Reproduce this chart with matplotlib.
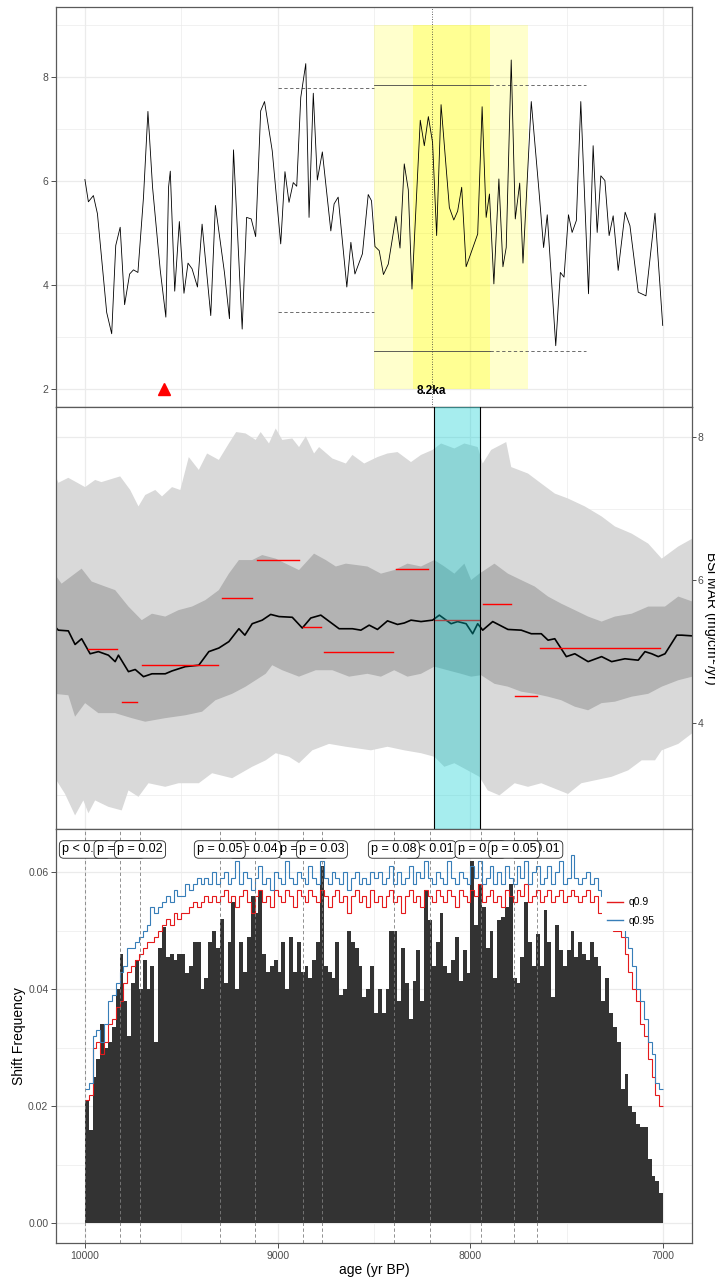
import numpy as np
import matplotlib
matplotlib.use('Agg')
import matplotlib.pyplot as plt
from matplotlib.patches import Rectangle
from matplotlib.lines import Line2D

plt.rcParams['font.family'] = ['Liberation Sans', 'DejaVu Sans']

# ---------- panel 1: BSi record ----------
rec_age = [10000, 9982, 9956, 9935, 9887, 9861, 9840, 9817, 9794, 9768, 9748, 9725, 9696, 9673,
           9649, 9609, 9580, 9566, 9557, 9534, 9510, 9486, 9465, 9444, 9416, 9392, 9347, 9323,
           9276, 9250, 9229, 9184, 9161, 9137, 9114, 9088, 9068, 9028, 8984, 8962, 8941, 8919,
           8901, 8880, 8854, 8837, 8815, 8794, 8768, 8724, 8707, 8686, 8641, 8620, 8599, 8560,
           8530, 8513, 8495, 8473, 8451, 8426, 8386, 8365, 8343, 8322, 8303, 8260, 8239, 8218,
           8196, 8175, 8152, 8109, 8086, 8066, 8045, 8022, 7962, 7939, 7918, 7901, 7878, 7852,
           7831, 7814, 7788, 7767, 7744, 7727, 7684, 7644, 7620, 7601, 7557, 7533, 7514, 7491,
           7472, 7450, 7427, 7387, 7363, 7342, 7323, 7302, 7280, 7259, 7233, 7197, 7172, 7129,
           7089, 7042, 7002]
rec_val = [6.03, 5.60, 5.72, 5.37, 3.47, 3.06, 4.76, 5.11, 3.62, 4.21, 4.29, 4.24, 5.69, 7.34,
           5.88, 4.28, 3.38, 5.88, 6.19, 3.88, 5.22, 3.84, 4.42, 4.31, 3.96, 5.17, 3.41, 5.53,
           4.24, 3.35, 6.60, 3.15, 5.30, 5.27, 4.93, 7.35, 7.53, 6.58, 4.79, 6.18, 5.59, 5.97,
           5.90, 7.61, 8.26, 5.30, 7.69, 6.02, 6.56, 5.04, 5.56, 5.69, 3.96, 4.82, 4.21, 4.60,
           5.74, 5.62, 4.74, 4.66, 4.20, 4.40, 5.32, 4.71, 6.33, 5.83, 3.92, 7.17, 6.68, 7.24,
           6.74, 4.95, 7.47, 5.49, 5.25, 5.42, 5.88, 4.35, 4.98, 7.43, 5.30, 5.75, 4.02, 6.04,
           4.35, 4.72, 8.33, 5.27, 5.96, 4.42, 7.53, 5.81, 4.72, 5.35, 2.83, 4.24, 4.15, 5.35,
           5.01, 5.24, 7.53, 3.83, 6.68, 5.01, 6.10, 6.01, 4.95, 5.33, 4.28, 5.40, 5.14, 3.86,
           3.79, 5.38, 3.22]

# event windows (yr BP) and reference levels
outer_win = (8500, 7700)
inner_win = (8300, 7900)
event_age = 8200
ref_left = (9000, 8500, 7.79, 3.48)
ref_mid = (8500, 7900, 7.85, 2.73)
ref_right = (7900, 7400, 7.85, 2.73)
marker_age = 9590

# ---------- panel 2: BSi MAR ensemble ----------
lu_age = [10159, 10138, 10086, 9999, 9947, 9914, 9817, 9765, 9722, 9687, 9635, 9600, 9548, 9505,
          9461, 9409, 9366, 9305, 9253, 9215, 9166, 9114, 9088, 9045, 9010, 8976, 8924, 8889,
          8854, 8811, 8785, 8716, 8646, 8612, 8551, 8482, 8430, 8378, 8308, 8256, 8196, 8152,
          8083, 8031, 7962, 7936, 7892, 7814, 7788, 7701, 7632, 7562, 7493, 7406, 7319, 7250,
          7163, 7077, 7007, 6921, 6848]
lu_val = [7.51, 7.36, 7.43, 7.30, 7.40, 7.37, 7.45, 7.26, 7.03, 7.19, 7.26, 7.17, 7.30, 7.26,
          7.72, 7.54, 7.77, 7.68, 7.91, 8.07, 8.05, 7.96, 8.07, 7.91, 8.12, 7.96, 7.98, 7.86,
          8.01, 7.77, 7.86, 7.70, 7.63, 7.75, 7.63, 7.72, 7.77, 7.79, 7.65, 7.75, 7.82, 7.91,
          7.84, 7.91, 7.86, 7.63, 7.82, 7.93, 7.58, 7.49, 7.35, 7.21, 7.14, 7.03, 6.89, 6.75,
          6.65, 6.51, 6.30, 6.47, 6.58]
ll_age = [10159, 10103, 10051, 10008, 9982, 9947, 9878, 9809, 9774, 9722, 9670, 9583, 9514, 9409,
          9340, 9236, 9132, 9062, 9010, 8941, 8889, 8820, 8733, 8646, 8516, 8430, 8343, 8256,
          8187, 8135, 8083, 8014, 7953, 7910, 7849, 7770, 7701, 7632, 7493, 7424, 7354, 7267,
          7181, 7111, 7042, 7007, 6921, 6848]
ll_val = [3.25, 3.01, 2.71, 2.92, 2.74, 2.92, 2.83, 2.78, 3.06, 2.97, 3.16, 3.11, 3.16, 3.16,
          3.30, 3.23, 3.39, 3.48, 3.58, 3.53, 3.44, 3.62, 3.71, 3.67, 3.62, 3.67, 3.62, 3.58,
          3.53, 3.39, 3.44, 3.34, 3.25, 3.06, 2.99, 3.16, 3.11, 3.16, 3.01, 3.16, 3.20, 3.25,
          3.34, 3.48, 3.48, 3.62, 3.71, 3.86]
du_age = [10159, 10121, 10017, 9965, 9895, 9843, 9774, 9705, 9652, 9583, 9514, 9444, 9375, 9305,
          9253, 9201, 9132, 9080, 9010, 8958, 8889, 8811, 8750, 8698, 8646, 8534, 8464, 8395,
          8326, 8256, 8187, 8135, 8083, 8031, 7996, 7953, 7875, 7805, 7736, 7666, 7597, 7528,
          7458, 7389, 7319, 7250, 7163, 7077, 6990, 6921, 6848]
du_val = [6.09, 5.95, 6.16, 5.98, 5.91, 5.86, 5.63, 5.44, 5.53, 5.49, 5.58, 5.63, 5.72, 5.86,
          6.09, 6.28, 6.28, 6.35, 6.30, 6.23, 6.14, 6.37, 6.28, 6.19, 6.23, 6.19, 6.09, 6.14,
          6.23, 6.19, 6.28, 6.19, 6.09, 6.23, 6.00, 6.09, 6.23, 6.09, 6.00, 5.91, 5.77, 5.67,
          5.58, 5.49, 5.42, 5.49, 5.53, 5.63, 5.63, 5.77, 5.70]
dl_age = [10159, 10086, 10051, 9999, 9930, 9843, 9757, 9687, 9583, 9479, 9392, 9323, 9236, 9166,
          9114, 9062, 9028, 8976, 8889, 8802, 8716, 8629, 8534, 8464, 8395, 8326, 8256, 8187,
          8118, 8048, 7996, 7944, 7875, 7805, 7736, 7666, 7597, 7528, 7458, 7389, 7319, 7250,
          7163, 7077, 7007, 6921, 6848]
dl_val = [4.41, 4.39, 4.09, 4.28, 4.14, 4.14, 4.07, 4.02, 4.07, 4.11, 4.16, 4.32, 4.41, 4.51,
          4.60, 4.69, 4.81, 4.74, 4.65, 4.74, 4.74, 4.65, 4.69, 4.65, 4.74, 4.65, 4.69, 4.79,
          4.74, 4.69, 4.65, 4.67, 4.55, 4.51, 4.44, 4.41, 4.37, 4.32, 4.23, 4.18, 4.28, 4.30,
          4.37, 4.41, 4.51, 4.60, 4.65]
med_age = [10159, 10138, 10086, 10051, 10017, 9973, 9930, 9878, 9843, 9826, 9774, 9739, 9696,
           9652, 9583, 9548, 9479, 9409, 9357, 9305, 9253, 9201, 9170, 9132, 9080, 9036, 8993,
           8924, 8872, 8828, 8776, 8716, 8681, 8612, 8568, 8525, 8482, 8430, 8378, 8343, 8308,
           8256, 8196, 8161, 8100, 8066, 8022, 7988, 7962, 7936, 7884, 7805, 7736, 7684, 7632,
           7597, 7562, 7502, 7458, 7389, 7319, 7267, 7198, 7129, 7094, 7059, 7025, 6990, 6929,
           6903, 6848]
med_val = [5.36, 5.30, 5.29, 5.10, 5.18, 4.97, 5.00, 4.95, 4.86, 4.95, 4.72, 4.75, 4.65, 4.69,
           4.69, 4.73, 4.79, 4.81, 5.00, 5.05, 5.14, 5.32, 5.23, 5.39, 5.44, 5.52, 5.49, 5.48,
           5.33, 5.47, 5.51, 5.39, 5.32, 5.32, 5.30, 5.37, 5.31, 5.43, 5.38, 5.40, 5.44, 5.42,
           5.44, 5.51, 5.39, 5.42, 5.39, 5.25, 5.39, 5.30, 5.42, 5.31, 5.30, 5.25, 5.25, 5.16,
           5.18, 4.93, 4.97, 4.86, 4.93, 4.86, 4.90, 4.88, 5.00, 4.97, 4.93, 4.97, 5.23, 5.23,
           5.22]
seg_start = [9982, 9810, 9706, 9290, 9108, 8868, 8760, 8384, 8187, 7936, 7770, 7641]
seg_end = [9831, 9732, 9311, 9134, 8889, 8775, 8400, 8218, 7953, 7790, 7656, 7017]
seg_val = [5.03, 4.29, 4.81, 5.75, 6.28, 5.34, 4.99, 6.15, 5.44, 5.66, 4.38, 5.05]
cyan_win = (8190, 7950)

# ---------- panel 3: shift frequency (20-yr bins from 10000 to 7000) ----------
bin_edges = np.arange(10000, 6999, -20)
shift_freq = [0.021, 0.016, 0.025, 0.028, 0.034, 0.030, 0.031, 0.0335, 0.040, 0.046,
              0.038, 0.032, 0.041, 0.045, 0.040, 0.045, 0.040, 0.044, 0.031, 0.047,
              0.0507, 0.0455, 0.046, 0.045, 0.046, 0.046, 0.0427, 0.044, 0.048, 0.048,
              0.040, 0.042, 0.048, 0.050, 0.047, 0.052, 0.041, 0.048, 0.055, 0.040,
              0.048, 0.043, 0.049, 0.056, 0.053, 0.057, 0.046, 0.043, 0.044, 0.045,
              0.043, 0.048, 0.040, 0.049, 0.043, 0.048, 0.043, 0.044, 0.042, 0.045,
              0.048, 0.061, 0.044, 0.043, 0.042, 0.048, 0.039, 0.040, 0.050, 0.048,
              0.047, 0.044, 0.0387, 0.040, 0.044, 0.036,
              0.040, 0.036, 0.040, 0.050, 0.050, 0.038, 0.047, 0.041, 0.035, 0.0415,
              0.0467, 0.038, 0.057, 0.0518, 0.044, 0.048, 0.053, 0.044, 0.0427, 0.045,
              0.049, 0.0415, 0.0467, 0.0427, 0.062, 0.051, 0.058, 0.054, 0.047, 0.050,
              0.042, 0.0518, 0.0524, 0.054, 0.058, 0.042, 0.041, 0.0455, 0.055, 0.048,
              0.044, 0.0495, 0.044, 0.0535, 0.048, 0.0387, 0.051, 0.0467, 0.044, 0.0467,
              0.050, 0.0455, 0.048, 0.046, 0.045, 0.048, 0.0455, 0.044, 0.038, 0.042,
              0.036, 0.0335, 0.031, 0.023, 0.0256, 0.020, 0.019, 0.017, 0.0165, 0.0165,
              0.011, 0.008, 0.0073, 0.0051]
q90 = [0.021, 0.022, 0.030, 0.031, 0.029, 0.031, 0.034, 0.035, 0.037, 0.038,
       0.041, 0.043, 0.044, 0.045, 0.046, 0.047, 0.048, 0.048, 0.049, 0.050,
       0.051, 0.052, 0.051, 0.053, 0.052, 0.053, 0.053, 0.054, 0.055, 0.054,
       0.055, 0.056, 0.055, 0.056, 0.055, 0.056, 0.057, 0.055, 0.056, 0.054,
       0.056, 0.057, 0.055, 0.053, 0.056, 0.057, 0.055, 0.056, 0.054, 0.057,
       0.056, 0.055, 0.057, 0.056, 0.054, 0.057, 0.056, 0.055, 0.057, 0.056,
       0.055, 0.057, 0.056, 0.054, 0.056, 0.057, 0.055, 0.056, 0.053, 0.056,
       0.057, 0.055, 0.056, 0.054, 0.057, 0.055, 0.056, 0.054, 0.056, 0.057,
       0.055, 0.056, 0.053, 0.056, 0.057, 0.055, 0.056, 0.054, 0.057, 0.056,
       0.055, 0.057, 0.056, 0.055, 0.057, 0.056, 0.054, 0.057, 0.056, 0.055,
       0.057, 0.056, 0.058, 0.055, 0.056, 0.057, 0.055, 0.056, 0.054, 0.057,
       0.056, 0.055, 0.057, 0.056, 0.058, 0.055, 0.056, 0.057, 0.055, 0.056,
       0.057, 0.055, 0.056, 0.057, 0.055, 0.056, 0.057, 0.056, 0.055, 0.056,
       0.057, 0.055, 0.056, 0.053, 0.053, 0.052, 0.051, 0.050, 0.050, 0.049,
       0.046, 0.043, 0.040, 0.038, 0.034, 0.032, 0.028, 0.025, 0.022, 0.020]
q95 = [0.023, 0.024, 0.032, 0.033, 0.031, 0.034, 0.038, 0.039, 0.041, 0.043,
       0.044, 0.047, 0.047, 0.048, 0.049, 0.050, 0.051, 0.054, 0.053, 0.054,
       0.055, 0.056, 0.055, 0.057, 0.056, 0.056, 0.058, 0.057, 0.058, 0.059,
       0.058, 0.059, 0.058, 0.060, 0.058, 0.059, 0.060, 0.058, 0.059, 0.062,
       0.058, 0.060, 0.059, 0.057, 0.059, 0.061, 0.058, 0.059, 0.057, 0.060,
       0.059, 0.058, 0.062, 0.059, 0.058, 0.060, 0.059, 0.058, 0.061, 0.059,
       0.058, 0.062, 0.059, 0.058, 0.060, 0.059, 0.058, 0.060, 0.057, 0.059,
       0.060, 0.058, 0.059, 0.058, 0.060, 0.059, 0.060, 0.058, 0.059, 0.061,
       0.058, 0.060, 0.058, 0.059, 0.061, 0.058, 0.060, 0.059, 0.062, 0.059,
       0.058, 0.060, 0.059, 0.058, 0.062, 0.059, 0.058, 0.060, 0.059, 0.058,
       0.061, 0.059, 0.062, 0.058, 0.059, 0.061, 0.058, 0.060, 0.058, 0.061,
       0.059, 0.058, 0.061, 0.059, 0.062, 0.058, 0.060, 0.061, 0.058, 0.059,
       0.061, 0.058, 0.060, 0.062, 0.058, 0.059, 0.063, 0.059, 0.058, 0.059,
       0.060, 0.058, 0.059, 0.057, 0.056, 0.055, 0.054, 0.054, 0.054, 0.054,
       0.049, 0.047, 0.044, 0.040, 0.038, 0.035, 0.031, 0.029, 0.024, 0.023]
cp_age = [10000, 9820, 9714, 9300, 9118, 8868, 8770, 8397, 8207, 7947, 7773, 7653]
cp_text = ['p < 0.01', 'p = 0.01', 'p = 0.02', 'p = 0.05', 'p = 0.04', 'p = 0.01',
           'p = 0.03', 'p = 0.08', 'p < 0.01', 'p = 0.02', 'p = 0.05', 'p = 0.01']

XLIM = (10150, 6850)
GRID = '#EBEBEB'
TICKC = '#4D4D4D'
BORDER = '#5a5a5a'


def style(ax):
    ax.set_xlim(*XLIM)
    ax.set_facecolor('white')
    for s in ax.spines.values():
        s.set_color(BORDER)
        s.set_linewidth(0.9)
    ax.set_xticks([10000, 9000, 8000, 7000])
    ax.set_xticks([9500, 8500, 7500], minor=True)
    ax.grid(True, which='major', color=GRID, lw=0.9, zorder=0)
    ax.grid(True, which='minor', color=GRID, lw=0.5, zorder=0)
    ax.set_axisbelow(True)
    ax.tick_params(which='major', length=3.5, width=0.6, color='#333333',
                   labelsize=7.5, labelcolor=TICKC, pad=2)
    ax.tick_params(which='minor', length=0)


fig = plt.figure(figsize=(7.15, 12.77), dpi=100)
W, H = 715, 1277
def box(l, t, r, b):
    return [l / W, 1 - b / H, (r - l) / W, (b - t) / H]

# ----- top -----
ax1 = fig.add_axes(box(56, 7, 692, 407))
style(ax1)
ax1.set_ylim(1.65, 9.35)
ax1.set_yticks([2, 4, 6, 8])
ax1.set_yticks([3, 5, 7, 9], minor=True)
ax1.set_xticklabels([])
ax1.fill_betweenx([2, 9], outer_win[0], outer_win[1], color='#FFFF00', alpha=0.2, lw=0, zorder=1)
ax1.fill_betweenx([2, 9], inner_win[0], inner_win[1], color='#FFFF00', alpha=0.28, lw=0, zorder=1)
ax1.axvline(event_age, color='#333333', lw=0.6, ls=(0, (1, 2)), zorder=2)
for a0, a1, hi, lo in [ref_left, ref_right]:
    ax1.plot([a0, a1], [hi, hi], color='#555555', lw=0.6, ls=(0, (4, 3)), zorder=2)
    ax1.plot([a0, a1], [lo, lo], color='#555555', lw=0.6, ls=(0, (4, 3)), zorder=2)
a0, a1, hi, lo = ref_mid
ax1.plot([a0, a1], [hi, hi], color='#444444', lw=0.6, zorder=2)
ax1.plot([a0, a1], [lo, lo], color='#444444', lw=0.6, zorder=2)
ax1.plot(rec_age, rec_val, color='black', lw=0.6, zorder=3)
ax1.plot([marker_age], [2], marker='^', color='red', ms=9, ls='none', zorder=4)
ax1.text(event_age, 1.96, '8.2ka', ha='center', va='center', fontsize=8.5,
         fontweight='bold', zorder=5)

# ----- middle -----
ax2 = fig.add_axes(box(56, 407, 692, 829))
style(ax2)
ax2.set_ylim(2.52, 8.42)
ax2.yaxis.tick_right()
ax2.yaxis.set_label_position('right')
ax2.set_yticks([4, 6, 8])
ax2.set_yticks([3, 5, 7], minor=True)
ax2.tick_params(axis='y', which='major', length=3, pad=1)
ax2.set_xticklabels([])
ax2.tick_params(axis='x', which='major', length=0)
ax2.fill(np.concatenate([lu_age, ll_age[::-1]]), np.concatenate([lu_val, ll_val[::-1]]),
         color='#D9D9D9', lw=0, zorder=1)
ax2.fill(np.concatenate([du_age, dl_age[::-1]]), np.concatenate([du_val, dl_val[::-1]]),
         color='#B3B3B3', lw=0, zorder=1.5)
ax2.plot(med_age, med_val, color='black', lw=1.2, zorder=2)
for s0, s1, v in zip(seg_start, seg_end, seg_val):
    ax2.plot([s0, s1], [v, v], color='red', lw=1.0, zorder=2)
ax2.add_patch(Rectangle((cyan_win[0], 0), cyan_win[1] - cyan_win[0], 20,
                        facecolor='#00CED1', alpha=0.35, edgecolor='none', zorder=3))
ax2.axvline(cyan_win[0], color='black', lw=0.8, zorder=3.5)
ax2.axvline(cyan_win[1], color='black', lw=0.8, zorder=3.5)
ax2.set_ylabel('BSi MAR (mg/cm$^2$/yr)', rotation=270, fontsize=10, color='black',
               labelpad=5.5, va='center')

# ----- bottom -----
ax3 = fig.add_axes(box(56, 829, 692, 1243))
style(ax3)
ax3.set_ylim(-0.00337, 0.0674)
ax3.set_yticks([0.0, 0.02, 0.04, 0.06])
ax3.set_yticklabels(['0.00', '0.02', '0.04', '0.06'])
ax3.set_yticks([0.01, 0.03, 0.05], minor=True)
ax3.stairs(shift_freq, bin_edges, fill=True, color='#333333', lw=0, zorder=2)
ax3.stairs(q90, bin_edges, baseline=None, color='#E41A1C', lw=0.8, zorder=3)
ax3.stairs(q95, bin_edges, baseline=None, color='#377EB8', lw=0.8, zorder=3)
for a in cp_age:
    ax3.axvline(a, color='#7f7f7f', lw=0.6, ls=(0, (4, 3)), zorder=4)
for a, t in zip(cp_age, cp_text):
    pnum = float(t.split()[-1]) - (0.005 if '<' in t else 0)
    ax3.text(a, 0.0639, t, ha='center', va='center', fontsize=9, zorder=10 + pnum * 100,
             bbox=dict(boxstyle='round,pad=0.22,rounding_size=0.35', fc='white',
                       ec='#222222', lw=0.6))
handles = [Line2D([], [], color='#E41A1C', lw=1.0), Line2D([], [], color='#377EB8', lw=1.0)]
leg = ax3.legend(handles, ['q0.9', 'q0.95'], loc='upper left', bbox_to_anchor=(0.85, 0.86),
                 frameon=True, fontsize=7.5, handlelength=1.5, handletextpad=0.6,
                 labelspacing=0.8, borderpad=0.5, framealpha=1)
leg.get_frame().set_edgecolor('none')
leg.set_zorder(20)
ax3.set_xticklabels(['10000', '9000', '8000', '7000'])
ax3.set_xlabel('age (yr BP)', fontsize=10, labelpad=2)
ax3.set_ylabel('Shift Frequency', fontsize=10, labelpad=1.5)

fig.savefig('out.png', dpi=100)
